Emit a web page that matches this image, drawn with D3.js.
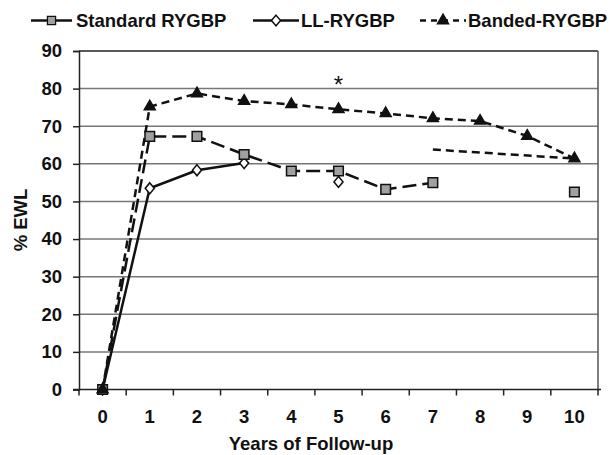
<!DOCTYPE html>
<html>
<head>
<meta charset="utf-8">
<script src="https://cdn.jsdelivr.net/npm/d3@7"></script>
<style>
  body { margin: 0; background: #fff; }
  svg { display: block; font-family: 'Liberation Sans', Arial, sans-serif; font-weight: bold; }
</style>
</head>
<body>
<div id="chart"></div>
<script>
// data (% EWL by year)
const years = [0, 1, 2, 3, 4, 5, 6, 7, 8, 9, 10];
const standard = [0, 67.3, 67.3, 62.5, 58.1, 58.1, 53.2, 55, null, null, 52.5];
const ll = [0, 53.5, 58.3, 60.2, null, 55.2, null, null, null, null, null];
const banded = [0, 75.2, 78.7, 76.7, 75.8, 74.5, 73.4, 72.1, 71.4, 67.4, 61.4];
const tailLine = [null, null, null, null, null, null, null, 63.8, null, null, 61.4];
const yTicks = [0, 10, 20, 30, 40, 50, 60, 70, 80, 90];
const legendLabels = ['Standard RYGBP', 'LL-RYGBP', 'Banded-RYGBP'];
const starYear = 5, starValue = 81.6;

const width = 610, height = 455;
const margin = { top: 51, right: 12, bottom: 65.5, left: 79 };
const fs = 18.5;

const svg = d3.select('#chart').append('svg')
  .attr('width', width)
  .attr('height', height);

const x = d3.scaleBand()
  .domain(years)
  .range([margin.left, width - margin.right]);

const y = d3.scaleLinear()
  .domain([0, 90])
  .range([height - margin.bottom, margin.top]);

const cx = (i) => x(years[i]) + x.bandwidth() / 2;

// grid lines
svg.append('g')
  .selectAll('line')
  .data(yTicks.filter((d) => d > 0 && d < 90))
  .join('line')
  .attr('x1', margin.left)
  .attr('x2', width - margin.right)
  .attr('y1', (d) => y(d))
  .attr('y2', (d) => y(d))
  .attr('stroke', '#777')
  .attr('stroke-width', 1.5);

// frame top + right
svg.append('line')
  .attr('x1', margin.left).attr('x2', width - margin.right)
  .attr('y1', y(90)).attr('y2', y(90))
  .attr('stroke', '#222').attr('stroke-width', 1.5);
svg.append('line')
  .attr('x1', width - margin.right).attr('x2', width - margin.right)
  .attr('y1', y(90)).attr('y2', y(0))
  .attr('stroke', '#555').attr('stroke-width', 1.5);

// y axis
const yAxis = svg.append('g')
  .attr('transform', `translate(${margin.left},0)`)
  .call(d3.axisLeft(y).tickValues(yTicks).tickSize(6).tickPadding(11))
  .call((g) => g.select('.domain').attr('stroke', '#222').attr('stroke-width', 1.5))
  .call((g) => g.selectAll('.tick line').attr('stroke', '#222').attr('stroke-width', 1.5));
yAxis.attr('font-family', null).attr('font-size', null);
yAxis.selectAll('text')
  .attr('font-size', fs)
  .attr('fill', '#111');

// x axis: ticks sit on the band edges
const xAxis = svg.append('g')
  .attr('transform', `translate(0,${y(0)})`);
xAxis.append('line')
  .attr('x1', margin.left - 6)
  .attr('x2', width - margin.right + 3)
  .attr('stroke', '#222')
  .attr('stroke-width', 1.5);
xAxis.selectAll('.edge')
  .data(years.concat([null]))
  .join('line')
  .attr('class', 'edge')
  .attr('x1', (d, i) => margin.left + i * x.bandwidth())
  .attr('x2', (d, i) => margin.left + i * x.bandwidth())
  .attr('y1', 0)
  .attr('y2', 6)
  .attr('stroke', '#222')
  .attr('stroke-width', 1.5);
xAxis.selectAll('.lbl')
  .data(years)
  .join('text')
  .attr('class', 'lbl')
  .attr('x', (d, i) => cx(i))
  .attr('y', 33.5)
  .attr('text-anchor', 'middle')
  .attr('font-size', fs)
  .attr('fill', '#111')
  .text((d) => d);

// axis titles
svg.append('text')
  .attr('x', 311)
  .attr('y', 450)
  .attr('text-anchor', 'middle')
  .attr('font-size', fs)
  .attr('fill', '#111')
  .text('Years of Follow-up');

svg.append('text')
  .attr('transform', `translate(26.5,220) rotate(-90)`)
  .attr('text-anchor', 'middle')
  .attr('font-size', fs)
  .attr('fill', '#111')
  .text('% EWL');

// series lines
const line = d3.line()
  .defined((d) => d != null)
  .x((d, i) => cx(i))
  .y((d) => y(d));

svg.append('path')
  .attr('d', line(ll))
  .attr('fill', 'none')
  .attr('stroke', '#111')
  .attr('stroke-width', 2.5);

svg.append('path')
  .attr('d', line(standard))
  .attr('fill', 'none')
  .attr('stroke', '#111')
  .attr('stroke-width', 2.5)
  .attr('stroke-dasharray', '14,6');

svg.append('path')
  .attr('d', line(banded))
  .attr('fill', 'none')
  .attr('stroke', '#111')
  .attr('stroke-width', 2.5)
  .attr('stroke-dasharray', '8,5');

const tailPts = tailLine.map((d, i) => [i, d]).filter((p) => p[1] != null);
svg.append('path')
  .attr('d', d3.line().x((p) => cx(p[0])).y((p) => y(p[1]))(tailPts))
  .attr('fill', 'none')
  .attr('stroke', '#111')
  .attr('stroke-width', 2.5)
  .attr('stroke-dasharray', '8,5');

// markers
const sq = d3.symbol().type(d3.symbolSquare).size(92);
const dia = d3.symbol().type(d3.symbolDiamond2).size(58);
const tri = d3.symbol().type(d3.symbolTriangle).size(52);

function markers(values, path, fill, k) {
  svg.append('g')
    .selectAll('path')
    .data(values.map((d, i) => [i, d]).filter((p) => p[1] != null))
    .join('path')
    .attr('transform', (p) => `translate(${cx(p[0])},${y(p[1])}) ${k || ''}`)
    .attr('d', path)
    .attr('fill', fill)
    .attr('stroke', '#111')
    .attr('stroke-width', 1.5);
}
markers(ll, dia(), '#fff', 'scale(0.95,1.15)');
markers(standard, sq(), '#a0a0a0');
markers(banded, tri(), '#111');

// significance star
svg.append('text')
  .attr('x', cx(years.indexOf(starYear)))
  .attr('y', y(starValue) + 10)
  .attr('text-anchor', 'middle')
  .attr('font-size', 24)
  .attr('font-weight', 'normal')
  .attr('fill', '#111')
  .text('*');

// legend
const legendItems = [
  { x1: 31, x2: 72, tx: 76, dash: null, sym: sq(), fill: '#a0a0a0', k: 'scale(0.85)' },
  { x1: 253, x2: 299, tx: 301, dash: null, sym: dia(), fill: '#fff', k: 'scale(0.95,1.1)' },
  { x1: 420, x2: 466, tx: 468, dash: '6,5', sym: tri(), fill: '#111', k: 'scale(1)' },
];
const lg = svg.append('g').attr('transform', 'translate(0,20.5)');
legendItems.forEach((it, i) => {
  lg.append('line')
    .attr('x1', it.x1).attr('x2', it.x2)
    .attr('stroke', '#111').attr('stroke-width', 2.5)
    .attr('stroke-dasharray', it.dash);
  lg.append('path')
    .attr('transform', `translate(${(it.x1 + it.x2) / 2},0) ${it.k}`)
    .attr('d', it.sym)
    .attr('fill', it.fill)
    .attr('stroke', '#111')
    .attr('stroke-width', 1.5);
  lg.append('text')
    .attr('x', it.tx)
    .attr('y', 6)
    .attr('font-size', fs)
    .attr('fill', '#111')
    .text(legendLabels[i]);
});
</script>
</body>
</html>
